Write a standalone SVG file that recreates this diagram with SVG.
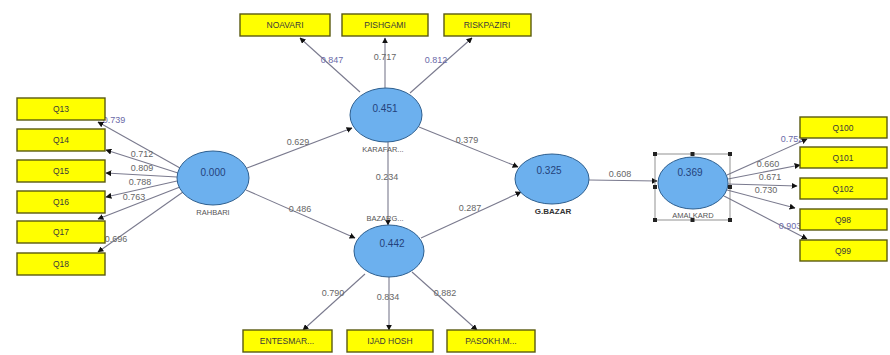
<svg xmlns="http://www.w3.org/2000/svg" width="890" height="355" viewBox="0 0 890 355">
<defs>
<marker id="ah" viewBox="0 0 10 10" refX="9" refY="5" markerWidth="6" markerHeight="6" orient="auto" markerUnits="userSpaceOnUse">
<path d="M0,0 L10,5 L0,10 z" fill="#111"/>
</marker>
<style>
.box{fill:#ffff00;stroke:#5a5a10;stroke-width:1.4}
.bt{font-family:"Liberation Sans",Arial,sans-serif;font-size:8.5px;fill:#3a3a3a;text-anchor:middle;dominant-baseline:central}
.lv{fill:#6cb0ee;stroke:#2e5f8f;stroke-width:1}
.val{font-family:"Liberation Sans",Arial,sans-serif;font-size:10px;fill:#24427a;text-anchor:middle;dominant-baseline:central}
.nm{font-family:"Liberation Sans",Arial,sans-serif;font-size:7.5px;fill:#555;text-anchor:middle;dominant-baseline:central}
.ln{stroke:#7a7a8e;stroke-width:1.1;fill:none;marker-end:url(#ah)}
.lb{font-family:"Liberation Sans",Arial,sans-serif;font-size:9px;fill:#666;text-anchor:middle;dominant-baseline:central}
.lbb{font-family:"Liberation Sans",Arial,sans-serif;font-size:9px;fill:#6a6aa8;text-anchor:middle;dominant-baseline:central}
.hd{fill:#222}
</style>
</defs>
<rect width="890" height="355" fill="#ffffff"/>

<g id="connectors">
<line class="ln" x1="180" y1="168" x2="98" y2="122"/>
<line class="ln" x1="178" y1="173" x2="106" y2="150"/>
<line class="ln" x1="177" y1="177" x2="106" y2="173"/>
<line class="ln" x1="177" y1="181" x2="106" y2="197"/>
<line class="ln" x1="180" y1="187" x2="98" y2="219"/>
<line class="ln" x1="183" y1="192" x2="98" y2="252"/>
<line class="ln" x1="247" y1="168" x2="352" y2="128"/>
<line class="ln" x1="246" y1="190" x2="355" y2="238"/>
<line class="ln" x1="388" y1="142" x2="388" y2="225"/>
<line class="ln" x1="419" y1="127" x2="518" y2="167"/>
<line class="ln" x1="421" y1="238" x2="521" y2="192"/>
<line class="ln" x1="589" y1="180" x2="657" y2="181"/>
<line class="ln" x1="360" y1="92" x2="300" y2="38"/>
<line class="ln" x1="385" y1="88" x2="385" y2="38"/>
<line class="ln" x1="410" y1="93" x2="472" y2="38"/>
<line class="ln" x1="365" y1="274" x2="303" y2="330"/>
<line class="ln" x1="389" y1="277" x2="389" y2="330"/>
<line class="ln" x1="412" y1="272" x2="477" y2="330"/>
<line class="ln" x1="727" y1="175" x2="807" y2="139"/>
<line class="ln" x1="728" y1="179" x2="800" y2="165"/>
<line class="ln" x1="728" y1="184" x2="797" y2="186"/>
<line class="ln" x1="727" y1="190" x2="795" y2="208"/>
<line class="ln" x1="724" y1="196" x2="807" y2="239"/>

<text class="lbb" x="114" y="120">0.739</text>
<text class="lb" x="142" y="154">0.712</text>
<text class="lb" x="142" y="168">0.809</text>
<text class="lb" x="140" y="182">0.788</text>
<text class="lb" x="134" y="197">0.763</text>
<text class="lb" x="116" y="239">0.696</text>
<text class="lbb" x="332" y="60">0.847</text>
<text class="lb" x="385" y="57">0.717</text>
<text class="lbb" x="436" y="60">0.812</text>
<text class="lb" x="298" y="142">0.629</text>
<text class="lb" x="300" y="209">0.486</text>
<text class="lb" x="387" y="177">0.234</text>
<text class="lb" x="467" y="140">0.379</text>
<text class="lb" x="470" y="208">0.287</text>
<text class="lb" x="620" y="174">0.608</text>
<text class="lbb" x="792" y="139">0.752</text>
<text class="lb" x="768" y="164">0.660</text>
<text class="lb" x="770" y="177">0.671</text>
<text class="lb" x="766" y="190">0.730</text>
<text class="lbb" x="790" y="226">0.903</text>
<text class="lb" x="333" y="293">0.790</text>
<text class="lb" x="388" y="297">0.834</text>
<text class="lb" x="445" y="293">0.882</text>
</g>

<g id="Q13"><rect class="box" x="17" y="98" width="88" height="22"/><text class="bt" x="61" y="109">Q13</text></g>
<g id="Q14"><rect class="box" x="17" y="129" width="88" height="22"/><text class="bt" x="61" y="140">Q14</text></g>
<g id="Q15"><rect class="box" x="17" y="160" width="88" height="22"/><text class="bt" x="61" y="171">Q15</text></g>
<g id="Q16"><rect class="box" x="17" y="191" width="88" height="22"/><text class="bt" x="61" y="202">Q16</text></g>
<g id="Q17"><rect class="box" x="17" y="221" width="88" height="22"/><text class="bt" x="61" y="232">Q17</text></g>
<g id="Q18"><rect class="box" x="17" y="253" width="88" height="22"/><text class="bt" x="61" y="264">Q18</text></g>

<g id="NOAVARI"><rect class="box" x="240" y="14" width="90" height="22"/><text class="bt" x="285" y="25">NOAVARI</text></g>
<g id="PISHGAMI"><rect class="box" x="342" y="14" width="86" height="22"/><text class="bt" x="385" y="25">PISHGAMI</text></g>
<g id="RISKPAZIRI"><rect class="box" x="444" y="14" width="87" height="22"/><text class="bt" x="487" y="25">RISKPAZIRI</text></g>

<g id="ENTESMAR"><rect class="box" x="243" y="330" width="89" height="22"/><text class="bt" x="287" y="341">ENTESMAR...</text></g>
<g id="IJADHOSH"><rect class="box" x="347" y="330" width="86" height="22"/><text class="bt" x="390" y="341">IJAD HOSH</text></g>
<g id="PASOKH"><rect class="box" x="447" y="330" width="88" height="22"/><text class="bt" x="491" y="341">PASOKH.M...</text></g>

<g id="Q100"><rect class="box" x="800" y="117" width="87" height="21"/><text class="bt" x="843" y="127.5">Q100</text></g>
<g id="Q101"><rect class="box" x="800" y="147" width="87" height="21"/><text class="bt" x="843" y="157.5">Q101</text></g>
<g id="Q102"><rect class="box" x="800" y="178" width="87" height="21"/><text class="bt" x="843" y="188.5">Q102</text></g>
<g id="Q98"><rect class="box" x="800" y="209" width="87" height="21"/><text class="bt" x="843" y="219.5">Q98</text></g>
<g id="Q99"><rect class="box" x="800" y="240" width="87" height="21"/><text class="bt" x="843" y="250.5">Q99</text></g>

<g id="RAHBARI"><ellipse class="lv" cx="213" cy="178" rx="36" ry="27"/><text class="val" x="213" y="172">0.000</text><text class="nm" x="213" y="212">RAHBARI</text></g>
<g id="KARAFARINI"><ellipse class="lv" cx="386" cy="115" rx="36" ry="27"/><text class="val" x="385" y="108">0.451</text><text class="nm" x="383" y="149">KARAFAR...</text></g>
<g id="BAZARGANI"><ellipse class="lv" cx="389" cy="251" rx="35" ry="26"/><text class="val" x="392" y="243">0.442</text><text class="nm" x="385" y="218">BAZARG...</text></g>
<g id="GBAZAR"><ellipse class="lv" cx="552" cy="179" rx="37" ry="25"/><text class="val" x="549" y="170">0.325</text><text class="nm" x="553" y="211" style="font-weight:bold;font-size:8px;fill:#333">G.BAZAR</text></g>
<g id="AMALKARD">
<rect x="655" y="154" width="75" height="66" fill="none" stroke="#777" stroke-width="0.8"/>
<ellipse class="lv" cx="693" cy="183" rx="35" ry="26"/>
<text class="val" x="690" y="172">0.369</text>
<text class="nm" x="693" y="215">AMALKARD</text>
<rect class="hd" x="653" y="152" width="4" height="4"/><rect class="hd" x="690.5" y="152" width="4" height="4"/><rect class="hd" x="728" y="152" width="4" height="4"/>
<rect class="hd" x="653" y="185" width="4" height="4"/><rect class="hd" x="728" y="185" width="4" height="4"/>
<rect class="hd" x="653" y="218" width="4" height="4"/><rect class="hd" x="690.5" y="218" width="4" height="4"/><rect class="hd" x="728" y="218" width="4" height="4"/>
</g>
</svg>
